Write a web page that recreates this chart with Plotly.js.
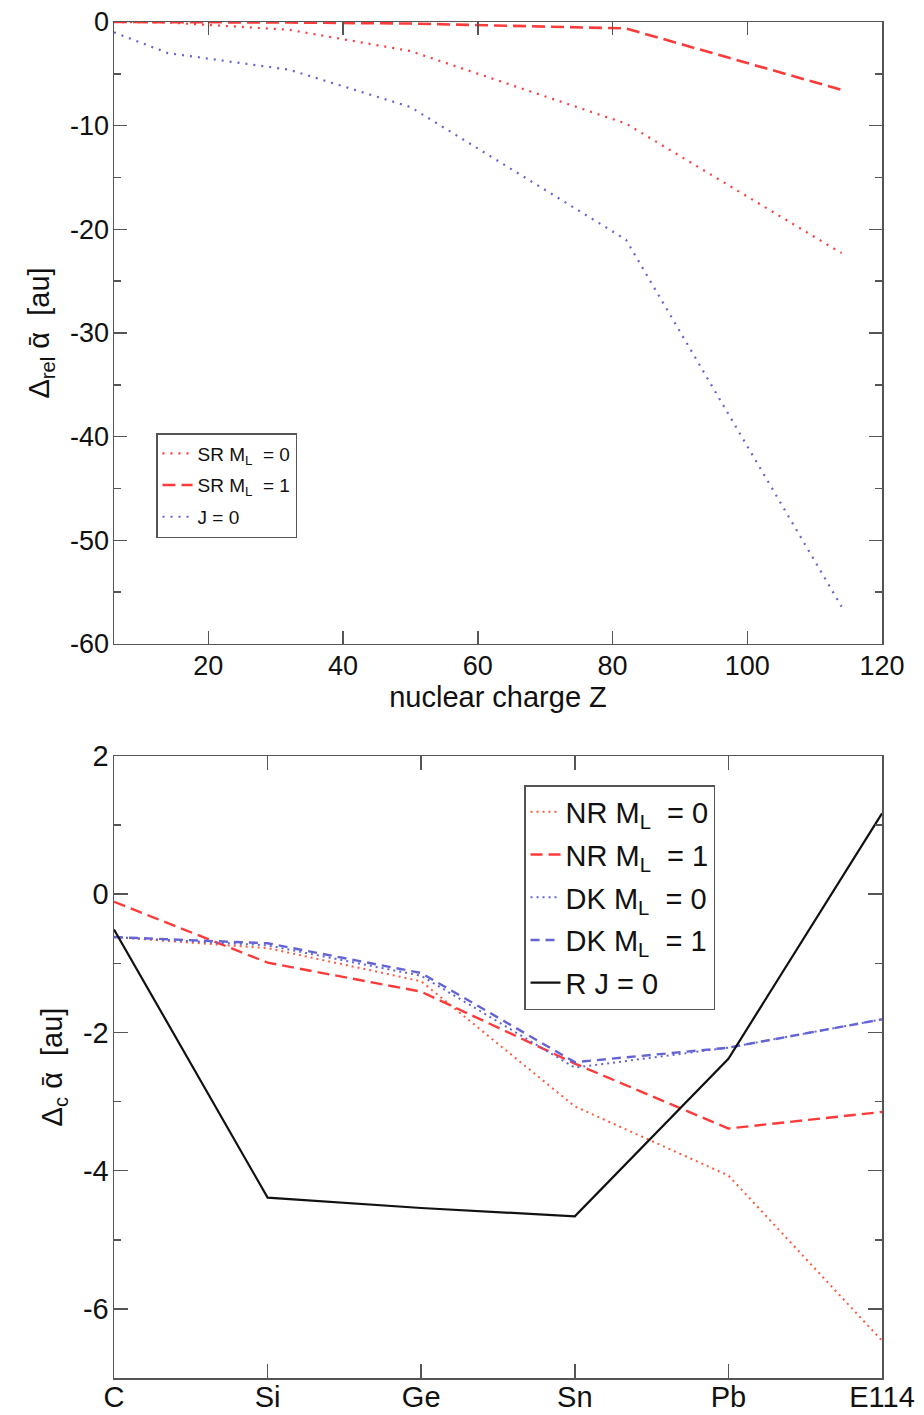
<!DOCTYPE html>
<html>
<head>
<meta charset="utf-8">
<script src="https://cdn.plot.ly/plotly-3.0.1.min.js"></script>
<style>html,body{margin:0;padding:0;background:#fff;}#chart{width:924px;height:1415px;}</style>
</head>
<body>
<div id="chart"></div>
<script>
// ---------- Top panel data: relativistic contribution vs nuclear charge ----------
var topZ = [6, 14, 32, 50, 82, 114];
var srML0 = [0, -0.05, -0.75, -2.8, -9.8, -22.3];
var srML1 = [0, 0, -0.05, -0.15, -0.62, -6.55];
var jZero = [-1.0, -3.0, -4.6, -8.2, -21.0, -56.4];
var topYTickVals = [0, -10, -20, -30, -40, -50, -60];
var topYTickText = ['0', '-10', '-20', '-30', '-40', '-50', '-60'];
var topXTickVals = [20, 40, 60, 80, 100, 120];

// ---------- Bottom panel data: correlation contribution per element ----------
var elements = ['C', 'Si', 'Ge', 'Sn', 'Pb', 'E114'];
var nrML0 = [-0.62, -0.78, -1.26, -3.07, -4.07, -6.46];
var nrML1 = [-0.11, -0.99, -1.41, -2.45, -3.39, -3.15];
var dkML0 = [-0.62, -0.74, -1.18, -2.51, -2.22, -1.81];
var dkML1 = [-0.62, -0.71, -1.14, -2.43, -2.22, -1.81];
var rJ0 = [-0.51, -4.39, -4.54, -4.66, -2.38, 1.17];
var botYTickVals = [2, 0, -2, -4, -6];
var botYTickText = ['2', '0', '-2', '-4', '-6'];

var RED = '#ff3a3a';
var ORANGE = '#ff5a3a';
var BLUE = '#6464d4';
var AX = '#555555';
var FONT = 'Liberation Sans, Arial, Helvetica, sans-serif';

var traces = [
  {x: topZ, y: srML0, mode: 'lines', name: 'SR M<sub>L</sub>\u00a0 = 0', legendgroup: 'a',
   line: {color: RED, width: 2.2, dash: '2px,6px'}, xaxis: 'x', yaxis: 'y', legend: 'legend'},
  {x: topZ, y: srML1, mode: 'lines', name: 'SR M<sub>L</sub>\u00a0 = 1', legendgroup: 'b',
   line: {color: RED, width: 2.6, dash: '13px,6px'}, xaxis: 'x', yaxis: 'y', legend: 'legend'},
  {x: topZ, y: jZero, mode: 'lines', name: 'J = 0', legendgroup: 'c',
   line: {color: BLUE, width: 2.2, dash: '2px,6px'}, xaxis: 'x', yaxis: 'y', legend: 'legend'},

  {x: elements, y: nrML0, mode: 'lines', name: 'NR M<sub>L</sub>\u00a0 = 0', legendgroup: 'd',
   line: {color: ORANGE, width: 2, dash: '2px,4px'}, xaxis: 'x2', yaxis: 'y2', legend: 'legend2'},
  {x: elements, y: nrML1, mode: 'lines', name: 'NR M<sub>L</sub>\u00a0 = 1', legendgroup: 'e',
   line: {color: RED, width: 2.4, dash: '12px,6px'}, xaxis: 'x2', yaxis: 'y2', legend: 'legend2'},
  {x: elements, y: dkML0, mode: 'lines', name: 'DK M<sub>L</sub>\u00a0 = 0', legendgroup: 'f',
   line: {color: BLUE, width: 2, dash: '2px,4px'}, xaxis: 'x2', yaxis: 'y2', legend: 'legend2'},
  {x: elements, y: dkML1, mode: 'lines', name: 'DK M<sub>L</sub>\u00a0 = 1', legendgroup: 'g',
   line: {color: BLUE, width: 2.4, dash: '9px,6px'}, xaxis: 'x2', yaxis: 'y2', legend: 'legend2'},
  {x: elements, y: rJ0, mode: 'lines', name: 'R J = 0', legendgroup: 'h',
   line: {color: '#111111', width: 2.2}, xaxis: 'x2', yaxis: 'y2', legend: 'legend2'}
];

var axCommon = {
  showline: true, linecolor: AX, linewidth: 1.5, mirror: 'ticks',
  ticks: 'inside', ticklen: 13, tickwidth: 1.5, tickcolor: AX,
  showgrid: false, zeroline: false, automargin: false,
  tickfont: {family: FONT, size: 27, color: '#111'}
};
function ax(extra) { return Object.assign({}, axCommon, extra); }

var layout = {
  width: 924, height: 1415,
  margin: {l: 114, r: 42, t: 22, b: 37},
  paper_bgcolor: '#fff', plot_bgcolor: '#fff',
  font: {family: FONT, color: '#111'},
  showlegend: true,
  xaxis: ax({domain: [0, 1], anchor: 'y', range: [6, 120], tickmode: 'array', tickvals: topXTickVals,
    ticklabelstandoff: -3,
    title: {text: 'nuclear charge Z', font: {family: FONT, size: 29, color: '#111'}, standoff: 0}}),
  yaxis: ax({domain: [0.5413, 1], anchor: 'x', range: [-60, 0], tickmode: 'array',
    tickvals: topYTickVals, ticktext: topYTickText, ticklabelstandoff: -2,
    minor: {tickmode: 'linear', tick0: 0, dtick: 5, ticks: 'inside', ticklen: 7, tickwidth: 1.5, tickcolor: AX},
    title: {text: '\u0394<sub>rel</sub> \u1FB1\u00a0 [au]', font: {family: FONT, size: 29, color: '#111'}, standoff: 12}}),
  xaxis2: ax({domain: [0, 1], anchor: 'y2', type: 'category', range: [0, 5], ticklen: 14,
    ticklabelstandoff: -7,
    tickfont: {family: FONT, size: 29, color: '#111'}}),
  yaxis2: ax({domain: [0, 0.4587], anchor: 'x2', range: [-7, 2], tickmode: 'array',
    tickvals: botYTickVals, ticktext: botYTickText, ticklen: 14, ticklabelstandoff: -2,
    tickfont: {family: FONT, size: 29, color: '#111'},
    minor: {tickmode: 'linear', tick0: 0, dtick: 1, ticks: 'inside', ticklen: 7, tickwidth: 1.5, tickcolor: AX},
    title: {text: '\u0394<sub>c</sub> \u1FB1\u00a0 [au]', font: {family: FONT, size: 29, color: '#111'}, standoff: 12}}),
  legend: {x: 0.0547, y: 0.6969, xanchor: 'left', yanchor: 'top',
    bgcolor: '#fff', bordercolor: AX, borderwidth: 1.5, itemwidth: 30, tracegroupgap: 4,
    font: {family: FONT, size: 19, color: '#111'}},
  legend2: {x: 0.5339, y: 0.4373, xanchor: 'left', yanchor: 'top',
    bgcolor: '#fff', bordercolor: AX, borderwidth: 1.5, itemwidth: 30, tracegroupgap: 2,
    font: {family: FONT, size: 29, color: '#111'}}
};

Plotly.newPlot('chart', traces, layout, {displayModeBar: false, staticPlot: true});
</script>
</body>
</html>
